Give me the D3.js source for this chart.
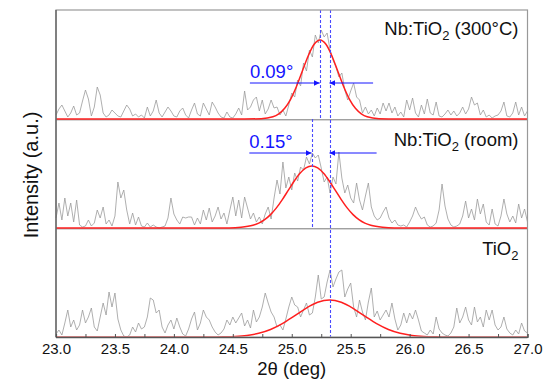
<!DOCTYPE html>
<html>
<head>
<meta charset="utf-8">
<script src="https://cdn.jsdelivr.net/npm/d3@7"></script>
<style>
  body { margin: 0; background: #fff; }
  text { font-family: "Liberation Sans", Arial, sans-serif; }
</style>
</head>
<body>
<div id="container"></div>
<script>
      // XRD scan grid: 23.0 -> 27.0 deg, 0.025 deg step
      var twoTheta = d3.range(161).map(function(i) { return +(23 + i * 0.025).toFixed(3); });

      // raw counts (a.u.), one row per sample
      var nbTio2Hot = [4,10,14,8,2,6,13,4,6,18,29,20,3,12,32,24,6,2,4,9,6,3,2,8,14,10,3,5,2,4,
        1,12,3,8,19,6,2,7,12,8,3,2,8,11,4,1,9,16,5,3,16,10,4,17,12,6,2,1,7,2,
        1,5,11,4,28,9,12,19,22,8,19,5,10,19,11,12,4,9,3,14,26,22,39,33,56,48,69,62,84,76,
        89,82,86,69,59,52,42,46,29,19,28,36,22,19,6,12,5,9,3,11,5,16,8,16,6,12,3,7,2,19,
        9,21,6,2,14,5,20,6,4,17,3,2,5,9,4,8,3,6,12,5,10,22,14,16,4,9,2,4,1,3,
        4,8,17,3,2,6,17,4,12,3,8];
      var nbTio2Room = [10,25,8,30,12,25,6,28,3,1,2,8,2,5,18,10,21,4,8,2,12,46,30,38,18,4,15,3,11,2,
        1,5,1,3,1,0,1,2,10,30,14,8,4,11,10,11,11,3,10,4,18,8,20,6,12,21,9,15,4,18,
        31,12,28,10,31,20,9,15,6,11,4,14,21,9,30,48,34,66,40,51,38,55,47,61,58,71,64,75,70,73,
        60,46,51,35,51,44,76,50,35,43,30,25,45,28,18,32,45,21,12,8,10,16,21,10,5,8,3,2,3,1,
        6,12,21,14,9,11,3,1,2,5,18,44,22,9,3,1,2,4,12,27,10,19,8,29,14,24,6,3,19,4,
        2,12,29,14,6,12,5,24,10,19,6];
      var tio2 = [3,7,2,14,27,10,17,7,12,27,14,20,29,10,6,20,34,22,45,30,44,18,7,1,0,2,10,5,14,8,
        10,20,39,37,24,27,10,4,12,17,8,19,10,3,1,8,18,25,7,14,27,20,17,10,5,2,4,8,17,12,
        20,14,19,24,11,17,9,27,15,20,30,44,34,25,20,10,12,7,18,30,40,32,30,20,27,34,22,24,40,62,
        38,40,55,67,50,58,65,67,40,48,54,30,20,37,25,17,35,49,20,26,17,22,27,20,34,18,7,12,24,14,
        24,18,27,17,6,4,2,7,3,20,8,4,2,1,4,10,29,14,20,30,17,12,30,15,20,10,27,17,27,12,
        7,10,20,8,4,2,7,3,14,6,4];

      // Gaussian fits (red)
      var fitHotX = [23, 24.6, 24.74, 24.84, 24.89, 24.94, 24.99, 25.04, 25.09, 25.14, 25.19, 25.24,
        25.29, 25.34, 25.39, 25.44, 25.49, 25.54, 25.59, 25.64, 25.74, 25.9, 27];
      var fitHotY = [0, 0, 0.3, 2.2, 5.2, 10.7, 19.7, 32.5, 47.9, 63.3, 74.7, 79,
        74.7, 63.3, 47.9, 32.5, 19.7, 10.7, 5.2, 2.2, 0.3, 0, 0];
      var fitRoomX = [23, 24.47, 24.57, 24.67, 24.72, 24.77, 24.82, 24.87, 24.92, 24.97, 25.02, 25.07, 25.12, 25.17,
        25.22, 25.27, 25.32, 25.37, 25.42, 25.47, 25.52, 25.57, 25.62, 25.67, 25.77, 25.87, 27];
      var fitRoomY = [0, 0.1, 0.7, 2.7, 4.9, 8.4, 13.4, 20.1, 28.4, 37.6, 46.8, 54.7, 60.1, 62,
        60.1, 54.7, 46.8, 37.6, 28.4, 20.1, 13.4, 8.4, 4.9, 2.7, 0.7, 0.1, 0];
      var fitTio2X = [23, 24.32, 24.42, 24.52, 24.62, 24.72, 24.82, 24.92, 25.02, 25.12, 25.22, 25.32,
        25.42, 25.52, 25.62, 25.72, 25.82, 25.92, 26.02, 26.12, 26.22, 26.32, 27];
      var fitTio2Y = [0, 0, 0.2, 0.6, 1.6, 3.7, 7.5, 13.3, 20.8, 28.7, 34.7, 37,
        34.7, 28.7, 20.8, 13.3, 7.5, 3.7, 1.6, 0.6, 0.2, 0, 0];

      // peak positions (deg) and shift labels
      var peakCenters = [25.237, 25.168, 25.32];
      var shiftLabels = ["0.09\u00b0", "0.15\u00b0"];
      var sampleNames = [["Nb:TiO", "2", " (300\u00b0C)"], ["Nb:TiO", "2", " (room)"], ["TiO", "2", ""]];
      var xTicks = [23.0, 23.5, 24.0, 24.5, 25.0, 25.5, 26.0, 26.5, 27.0];

      //Width and height
      var w = 552;
      var h = 380;
      var margin = { top: 10, right: 24.5, bottom: 43, left: 56 };
      var pw = w - margin.left - margin.right;
      var ph = (h - margin.top - margin.bottom) / 3;

      var svg = d3.select("#container")
            .append("svg")
            .attr("width", w)
            .attr("height", h);

      var x = d3.scaleLinear().domain([23, 27]).range([margin.left, margin.left + pw]);

      var panels = [
        { raw: nbTio2Hot, fx: fitHotX, fy: fitHotY },
        { raw: nbTio2Room, fx: fitRoomX, fy: fitRoomY },
        { raw: tio2, fx: fitTio2X, fy: fitTio2Y }
      ];

      var blue = "#1515ff";
      var dashBlue = "#4a4aff";

      panels.forEach(function(p, k) {
        var bottom = margin.top + ph * (k + 1);
        var y = d3.scaleLinear().domain([0, ph]).range([bottom, bottom - ph]);
        p.y = y;

        // raw scan
        svg.append("path")
          .datum(p.raw)
          .attr("fill", "none")
          .attr("stroke", "#9a9a9a")
          .attr("stroke-width", 0.8)
          .attr("d", d3.line()
            .x(function(d, i) { return x(twoTheta[i]); })
            .y(function(d) { return y(d); }));

        // panel baseline
        svg.append("line")
          .attr("x1", x(23)).attr("x2", x(27))
          .attr("y1", bottom + 0.8).attr("y2", bottom + 0.8)
          .attr("stroke", "#555").attr("stroke-width", 0.8);

        // fit
        svg.append("path")
          .datum(p.fy)
          .attr("fill", "none")
          .attr("stroke", "#ff1f1f")
          .attr("stroke-width", 1.5)
          .attr("d", d3.line()
            .curve(d3.curveMonotoneX)
            .x(function(d, i) { return x(p.fx[i]); })
            .y(function(d) { return y(d); }));

        // sample label
        var lab = svg.append("text")
          .attr("text-anchor", "end")
          .attr("x", x(27) - 9)
          .attr("y", [35, 146, 255][k])
          .attr("font-size", 18.5)
          .attr("fill", "#111");
        lab.append("tspan").text(sampleNames[k][0]);
        lab.append("tspan").text(sampleNames[k][1]).attr("font-size", 13).attr("dy", 5);
        if (sampleNames[k][2]) lab.append("tspan").text(sampleNames[k][2]).attr("dy", -5);
      });

      // dashed peak markers (snapped to the pixel grid so they stay crisp)
      [0, 1, 2].forEach(function(k) {
        var px = Math.round(x(peakCenters[k]) / 2) * 2 + 0.5;
        svg.append("line")
          .attr("x1", px).attr("x2", px)
          .attr("y1", k == 2 ? margin.top : margin.top + ph * k)
          .attr("y2", margin.top + ph * (k == 2 ? 3 : k + 1))
          .attr("stroke", dashBlue)
          .attr("stroke-width", 1.1)
          .attr("stroke-dasharray", "3,2");
      });

      // shift arrows
      var defs = svg.append("defs");
      defs.append("marker")
        .attr("id", "arr")
        .attr("viewBox", "0 0 10 10")
        .attr("refX", 10).attr("refY", 5)
        .attr("markerWidth", 6).attr("markerHeight", 6)
        .attr("markerUnits", "userSpaceOnUse")
        .attr("orient", "auto")
        .append("path").attr("d", "M0,0L10,5L0,10z").attr("fill", blue);

      var arrowLevels = [36, 75];
      var arrowEnds = [[24.645, 25.69], [24.64, 25.72]];
      [0, 1].forEach(function(k) {
        var y = panels[k].y;
        var ay = y(arrowLevels[k]);
        svg.append("line")
          .attr("x1", x(arrowEnds[k][0])).attr("x2", x(peakCenters[k]))
          .attr("y1", ay).attr("y2", ay)
          .attr("stroke", blue).attr("stroke-width", 1)
          .attr("marker-end", "url(#arr)");
        svg.append("line")
          .attr("x1", x(arrowEnds[k][1])).attr("x2", x(peakCenters[2]))
          .attr("y1", ay).attr("y2", ay)
          .attr("stroke", blue).attr("stroke-width", 1)
          .attr("marker-end", "url(#arr)");
        svg.append("text")
          .attr("x", x(arrowEnds[k][0]))
          .attr("y", ay - 5)
          .attr("font-size", 18.5)
          .attr("fill", blue)
          .text(shiftLabels[k]);
      });

      // frame
      svg.append("rect")
        .attr("x", x(23)).attr("y", margin.top)
        .attr("width", pw).attr("height", ph * 3)
        .attr("fill", "none").attr("stroke", "#999").attr("stroke-width", 1.2);
      svg.append("line")
        .attr("x1", x(23)).attr("x2", x(23))
        .attr("y1", margin.top).attr("y2", margin.top + ph * 3)
        .attr("stroke", "#555").attr("stroke-width", 1.2);

      // x axis
      var xAxis = d3.axisBottom(x)
        .tickValues(d3.range(23, 27.01, 0.25))
        .tickSize(-3)
        .tickFormat(function(d) { return xTicks.indexOf(+d.toFixed(2)) >= 0 ? d3.format(".1f")(d) : ""; });
      var gx = svg.append("g")
        .attr("transform", "translate(0," + (margin.top + ph * 3) + ")")
        .call(xAxis);
      gx.select(".domain").attr("stroke", "#555").attr("stroke-width", 1.2);
      gx.selectAll(".tick line").attr("stroke", "#555");
      gx.selectAll(".tick text")
        .attr("font-size", 15)
        .attr("font-family", "Liberation Sans, Arial, sans-serif")
        .attr("fill", "#111")
        .attr("dy", "0.95em");

      svg.append("text")
        .attr("x", x(25))
        .attr("y", 375)
        .attr("text-anchor", "middle")
        .attr("font-size", 18.5)
        .attr("fill", "#111")
        .text("2\u03b8 (deg)");

      svg.append("text")
        .attr("transform", "translate(38," + 175 + ") rotate(-90)")
        .attr("text-anchor", "middle")
        .attr("font-size", 20)
        .attr("fill", "#111")
        .text("Intensity (a.u.)");
</script>
</body>
</html>
